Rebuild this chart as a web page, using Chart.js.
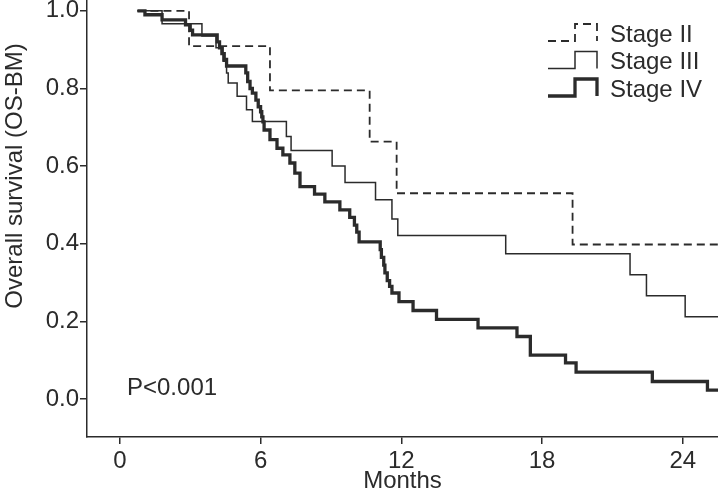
<!DOCTYPE html>
<html>
<head>
<meta charset="utf-8">
<script src="https://cdn.jsdelivr.net/npm/chart.js@4/dist/chart.umd.min.js"></script>
<style>
  html,body{margin:0;padding:0;background:#fff;}
  #wrap{width:718px;height:496px;position:relative;}
</style>
</head>
<body>
<div id="wrap"><canvas id="km"></canvas></div>
<script>
// Kaplan-Meier: overall survival by stage
const xTicks=[0,6,12,18,24];
const yTicks=[0,0.2,0.4,0.6,0.8,1.0];

const stage2Months=[0.75,2.95,6.4,10.65,11.8,19.3,25.5];
const stage2Surv=[1.0,0.909,0.795,0.663,0.530,0.398,0.398];

const stage3Months=[0.75,1.8,3.5,4.1,4.4,4.55,4.62,5.0,5.4,5.65,7.1,7.3,9.05,9.6,10.9,11.6,11.85,16.45,21.75,22.45,24.1,25.5];
const stage3Surv=[1.0,0.967,0.935,0.905,0.87,0.84,0.814,0.78,0.745,0.715,0.676,0.64,0.60,0.558,0.513,0.464,0.421,0.374,0.32,0.266,0.212,0.212];

const stage4Months=[0.75,1.07,1.8,2.8,3.0,3.1,4.15,4.25,4.35,4.45,4.55,5.37,5.45,5.55,5.65,5.8,5.9,6.0,6.05,6.1,6.15,6.4,6.7,6.95,7.25,7.46,7.68,8.3,8.74,9.38,9.8,10.0,10.1,10.2,11.1,11.15,11.25,11.3,11.4,11.5,11.6,11.9,12.5,13.5,15.27,16.93,17.5,19.0,19.45,22.7,25.05,25.5];
const stage4Surv=[1.0,0.99,0.977,0.964,0.95,0.938,0.92,0.905,0.89,0.875,0.858,0.84,0.818,0.80,0.788,0.77,0.753,0.74,0.727,0.714,0.693,0.668,0.646,0.629,0.608,0.582,0.547,0.528,0.508,0.487,0.468,0.448,0.43,0.405,0.385,0.365,0.345,0.325,0.305,0.29,0.273,0.251,0.228,0.205,0.183,0.161,0.113,0.093,0.069,0.045,0.023,0.023];

const pValue='P<0.001';
const yTitle='Overall survival (OS-BM)';

const FONT="'Liberation Sans',Arial,sans-serif";
const INK='#2b2b2b';
const pts=(m,s)=>m.map((v,i)=>({x:v,y:s[i]}));

// legend drawn as little KM steps, plus y title and p value
const extras={
  id:'extras',
  afterDraw(chart){
    const c=chart.ctx;
    c.save();
    c.fillStyle=INK;
    c.font='24px '+FONT;
    c.textBaseline='middle';
    c.textAlign='left';
    chart.data.datasets.forEach((ds,i)=>{
      const cy=35+i*27.5;
      c.beginPath();
      c.strokeStyle=ds.borderColor;
      c.lineWidth=ds.borderWidth;
      c.setLineDash(ds.borderDash||[]);
      c.moveTo(548,cy+6);c.lineTo(575,cy+6);c.lineTo(575,cy-11);
      c.lineTo(597,cy-11);c.lineTo(597,cy+6);
      c.stroke();
      c.setLineDash([]);
      c.fillText(ds.label,610,cy);
    });
    c.fillText(pValue,127,388);
    c.translate(15,176);
    c.rotate(-Math.PI/2);
    c.textAlign='center';
    c.fillText(yTitle,0,0);
    c.restore();
  }
};

new Chart(document.getElementById('km'),{
  type:'line',
  data:{
    datasets:[
      {label:'Stage II',data:pts(stage2Months,stage2Surv),borderColor:INK,borderWidth:1.8,borderDash:[8,5]},
      {label:'Stage III',data:pts(stage3Months,stage3Surv),borderColor:INK,borderWidth:1.5},
      {label:'Stage IV',data:pts(stage4Months,stage4Surv),borderColor:INK,borderWidth:3.3}
    ]
  },
  options:{
    responsive:true,maintainAspectRatio:false,animation:false,
    layout:{padding:0},
    elements:{line:{stepped:'before',fill:false,borderCapStyle:'butt',borderJoinStyle:'miter',tension:0},point:{radius:0,hoverRadius:0}},
    plugins:{legend:{display:false},tooltip:{enabled:false},title:{display:false}},
    scales:{
      x:{
        type:'linear',min:-1.4,max:25.5,
        afterBuildTicks:s=>{s.ticks=xTicks.map(v=>({value:v}));},
        afterFit:s=>{s.height=59;s.paddingLeft=0;s.paddingRight=0;},
        grid:{drawOnChartArea:false,drawTicks:true,tickLength:7,color:INK,lineWidth:1.5},
        border:{display:true,color:INK,width:1.5},
        ticks:{font:{family:FONT,size:24},color:INK,padding:3,maxRotation:0},
        title:{display:true,text:'Months',font:{family:FONT,size:24},color:INK,padding:{top:0,bottom:0}}
      },
      y:{
        type:'linear',min:-0.098,max:1.028,
        afterBuildTicks:s=>{s.ticks=yTicks.map(v=>({value:v}));},
        afterFit:s=>{s.width=87;s.paddingTop=0;s.paddingBottom=0;},
        grid:{drawOnChartArea:false,drawTicks:true,tickLength:7,color:INK,lineWidth:1.5},
        border:{display:true,color:INK,width:1.5},
        ticks:{font:{family:FONT,size:24},color:INK,padding:1,callback:v=>v.toFixed(1)}
      }
    }
  },
  plugins:[extras]
});
</script>
</body>
</html>
